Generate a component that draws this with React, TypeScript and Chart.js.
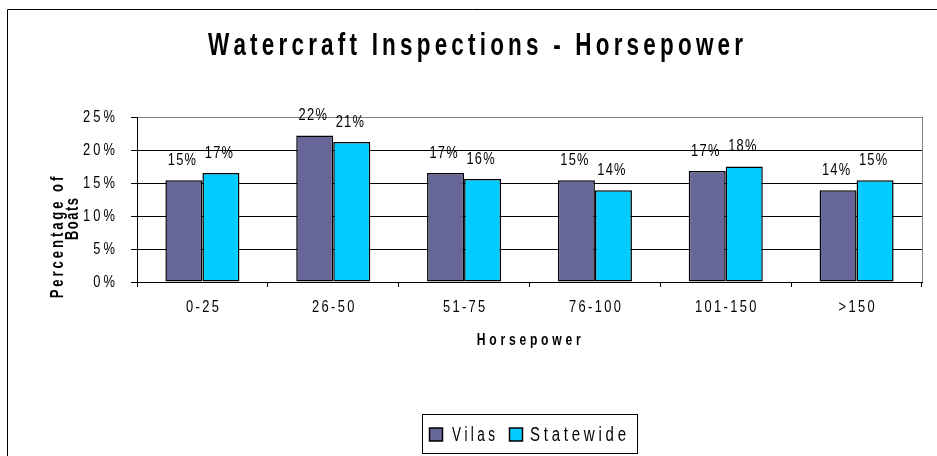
import React, { useEffect, useRef } from 'react';
import { Chart, registerables } from 'chart.js';

Chart.register(...registerables);

const categories = ['0-25', '26-50', '51-75', '76-100', '101-150', '>150'];
const vilas = [15.4, 22.2, 16.5, 15.4, 16.8, 13.9];
const statewide = [16.5, 21.2, 15.6, 13.9, 17.5, 15.4];
const seriesNames = ['Vilas', 'Statewide'];
const seriesColors = ['#666699', '#00CCFF'];
const yMin = 0;
const yMax = 25;
const yStep = 5;
const titleText = 'Watercraft Inspections - Horsepower';
const xTitleText = 'Horsepower';
const yTitleLines = ['Percentage of', 'Boats'];

const FONT = '"Liberation Sans", Arial, sans-serif';
const NARROW = 0.78;

function spacedWidth(ctx: CanvasRenderingContext2D, text: string, spacing: number) {
  let w = 0;
  const chars = Array.from(text);
  chars.forEach((ch) => {
    w += ctx.measureText(ch).width;
  });
  return w + spacing * Math.max(0, chars.length - 1);
}

function fillSpaced(ctx: CanvasRenderingContext2D, text: string, x0: number, y0: number, spacing: number) {
  let x = x0;
  Array.from(text).forEach((ch) => {
    ctx.fillText(ch, x, y0);
    x += ctx.measureText(ch).width + spacing;
  });
}

function drawScaled(
  ctx: CanvasRenderingContext2D,
  text: string,
  x: number,
  y: number,
  font: string,
  sx: number,
  spacing: number,
  align: 'left' | 'center' | 'right'
) {
  ctx.save();
  ctx.font = font;
  ctx.textAlign = 'left';
  ctx.textBaseline = 'alphabetic';
  ctx.fillStyle = '#000';
  const w = spacedWidth(ctx, text, spacing);
  ctx.translate(x, y);
  ctx.scale(sx, 1);
  const start = align === 'center' ? -w / 2 : align === 'right' ? -w : 0;
  fillSpaced(ctx, text, start, 0, spacing);
  ctx.restore();
}

function drawFitted(
  ctx: CanvasRenderingContext2D,
  text: string,
  x: number,
  y: number,
  width: number,
  font: string,
  align: 'left' | 'center',
  spacing: number,
  rotate = false
) {
  ctx.save();
  ctx.font = font;
  ctx.textAlign = 'left';
  ctx.textBaseline = 'alphabetic';
  ctx.fillStyle = '#000';
  const w = spacedWidth(ctx, text, spacing);
  const sx = width / w;
  ctx.translate(x, y);
  if (rotate) ctx.rotate(-Math.PI / 2);
  ctx.scale(sx, 1);
  const start = align === 'center' ? -w / 2 : 0;
  fillSpaced(ctx, text, start, 0, spacing);
  ctx.restore();
}

const decorPlugin = {
  id: 'decor',
  beforeDraw(chart: any) {
    const ctx = chart.ctx as CanvasRenderingContext2D;
    ctx.save();
    ctx.fillStyle = '#fff';
    ctx.fillRect(0, 0, chart.width, chart.height);
    ctx.strokeStyle = '#000';
    ctx.lineWidth = 1;
    ctx.beginPath();
    ctx.moveTo(7.5, chart.height);
    ctx.lineTo(7.5, 9.5);
    ctx.lineTo(chart.width, 9.5);
    ctx.stroke();
    ctx.restore();
  },
  afterDatasetsDraw(chart: any) {
    const ctx = chart.ctx as CanvasRenderingContext2D;
    const area = chart.chartArea;
    ctx.save();
    ctx.strokeStyle = '#808080';
    ctx.lineWidth = 1;
    ctx.beginPath();
    ctx.moveTo(Math.round(area.right) + 0.5, area.top);
    ctx.lineTo(Math.round(area.right) + 0.5, area.bottom);
    ctx.stroke();
    ctx.restore();
    // data labels
    chart.data.datasets.forEach((ds: any, di: number) => {
      const meta = chart.getDatasetMeta(di);
      meta.data.forEach((bar: any, i: number) => {
        const label = Math.round(ds.data[i]) + '%';
        drawScaled(ctx, label, bar.x - 2, bar.y - 15.5, '16.5px ' + FONT, NARROW, 1.6, 'center');
      });
    });
    // y tick labels
    const ys = chart.scales.y;
    ys.ticks.forEach((t: any) => {
      const py = ys.getPixelForValue(t.value);
      drawScaled(ctx, t.value + '%', 115, py + 5, '16.5px ' + FONT, NARROW, 4, 'right');
    });
    // x tick labels
    const xs = chart.scales.x;
    xs.ticks.forEach((t: any, i: number) => {
      const px = xs.getPixelForTick(i);
      drawScaled(ctx, String(categories[i]), px, 312, '16.5px ' + FONT, NARROW, 3, 'center');
    });
  },
  afterDraw(chart: any) {
    const ctx = chart.ctx as CanvasRenderingContext2D;
    drawFitted(ctx, titleText, 475.5, 55, 535, 'bold 32px ' + FONT, 'center', 6);
    drawFitted(ctx, yTitleLines[0], 63, 298.3, 121.6, 'bold 18px ' + FONT, 'left', 4, true);
    drawFitted(ctx, yTitleLines[1], 77.7, 240, 42, 'bold 18px ' + FONT, 'left', 2, true);
    drawFitted(ctx, xTitleText, 528.7, 345, 104, 'bold 16px ' + FONT, 'center', 5);
    ctx.save();
    ctx.strokeStyle = '#000';
    ctx.lineWidth = 1;
    ctx.strokeRect(422.5, 414.5, 215, 39);
    const sq = [429.5, 509.5];
    const tx = [452, 530];
    const tw = [43, 96];
    seriesNames.forEach((name, i) => {
      ctx.fillStyle = seriesColors[i];
      ctx.fillRect(sq[i], 428, 13, 13);
      ctx.strokeStyle = '#000';
      ctx.lineWidth = 1.5;
      ctx.strokeRect(sq[i], 428, 13, 13);
      drawFitted(ctx, name, tx[i], 441, tw[i], '20px ' + FONT, 'left', 5);
    });
    ctx.restore();
  },
};

export default function App() {
  const canvasRef = useRef<HTMLCanvasElement | null>(null);

  useEffect(() => {
    const canvas = canvasRef.current;
    if (!canvas) return;
    const chart = new Chart(canvas, {
      type: 'bar',
      data: {
        labels: categories,
        datasets: [
          {
            label: seriesNames[0],
            data: vilas,
            backgroundColor: seriesColors[0],
            borderColor: '#000',
            borderWidth: 1.5,
            borderSkipped: false,
            barPercentage: 1,
            categoryPercentage: 0.566,
          },
          {
            label: seriesNames[1],
            data: statewide,
            backgroundColor: seriesColors[1],
            borderColor: '#000',
            borderWidth: 1.5,
            borderSkipped: false,
            barPercentage: 1,
            categoryPercentage: 0.566,
          },
        ],
      },
      options: {
        responsive: false,
        animation: false,
        devicePixelRatio: 1,
        layout: { padding: { left: 77, right: 15, top: 117, bottom: 144 } },
        plugins: {
          legend: { display: false },
          title: { display: false },
          tooltip: { enabled: false },
        },
        scales: {
          x: {
            grid: {
              offset: true,
              drawOnChartArea: false,
              drawTicks: true,
              tickLength: 5,
              color: '#000',
            },
            border: { color: '#000', width: 1 },
            ticks: { display: false, maxRotation: 0, autoSkip: false },
            afterFit: (scale: any) => {
              scale.height = 30;
            },
          },
          y: {
            min: yMin,
            max: yMax,
            grid: {
              color: (c: any) => (c.tick && c.tick.value === yMax ? '#808080' : '#000'),
              tickColor: '#000',
              tickLength: 6,
              drawTicks: true,
            },
            border: { color: '#000', width: 1 },
            ticks: { stepSize: yStep, display: false },
            afterFit: (scale: any) => {
              scale.width = 60;
            },
          },
        },
      },
      plugins: [decorPlugin],
    });
    return () => chart.destroy();
  }, []);

  return (
    <div style={{ position: 'absolute', left: 0, top: 0, width: 937, height: 456, background: '#fff' }}>
      <canvas ref={canvasRef} width={937} height={456} style={{ display: 'block', width: 937, height: 456 }} />
    </div>
  );
}
